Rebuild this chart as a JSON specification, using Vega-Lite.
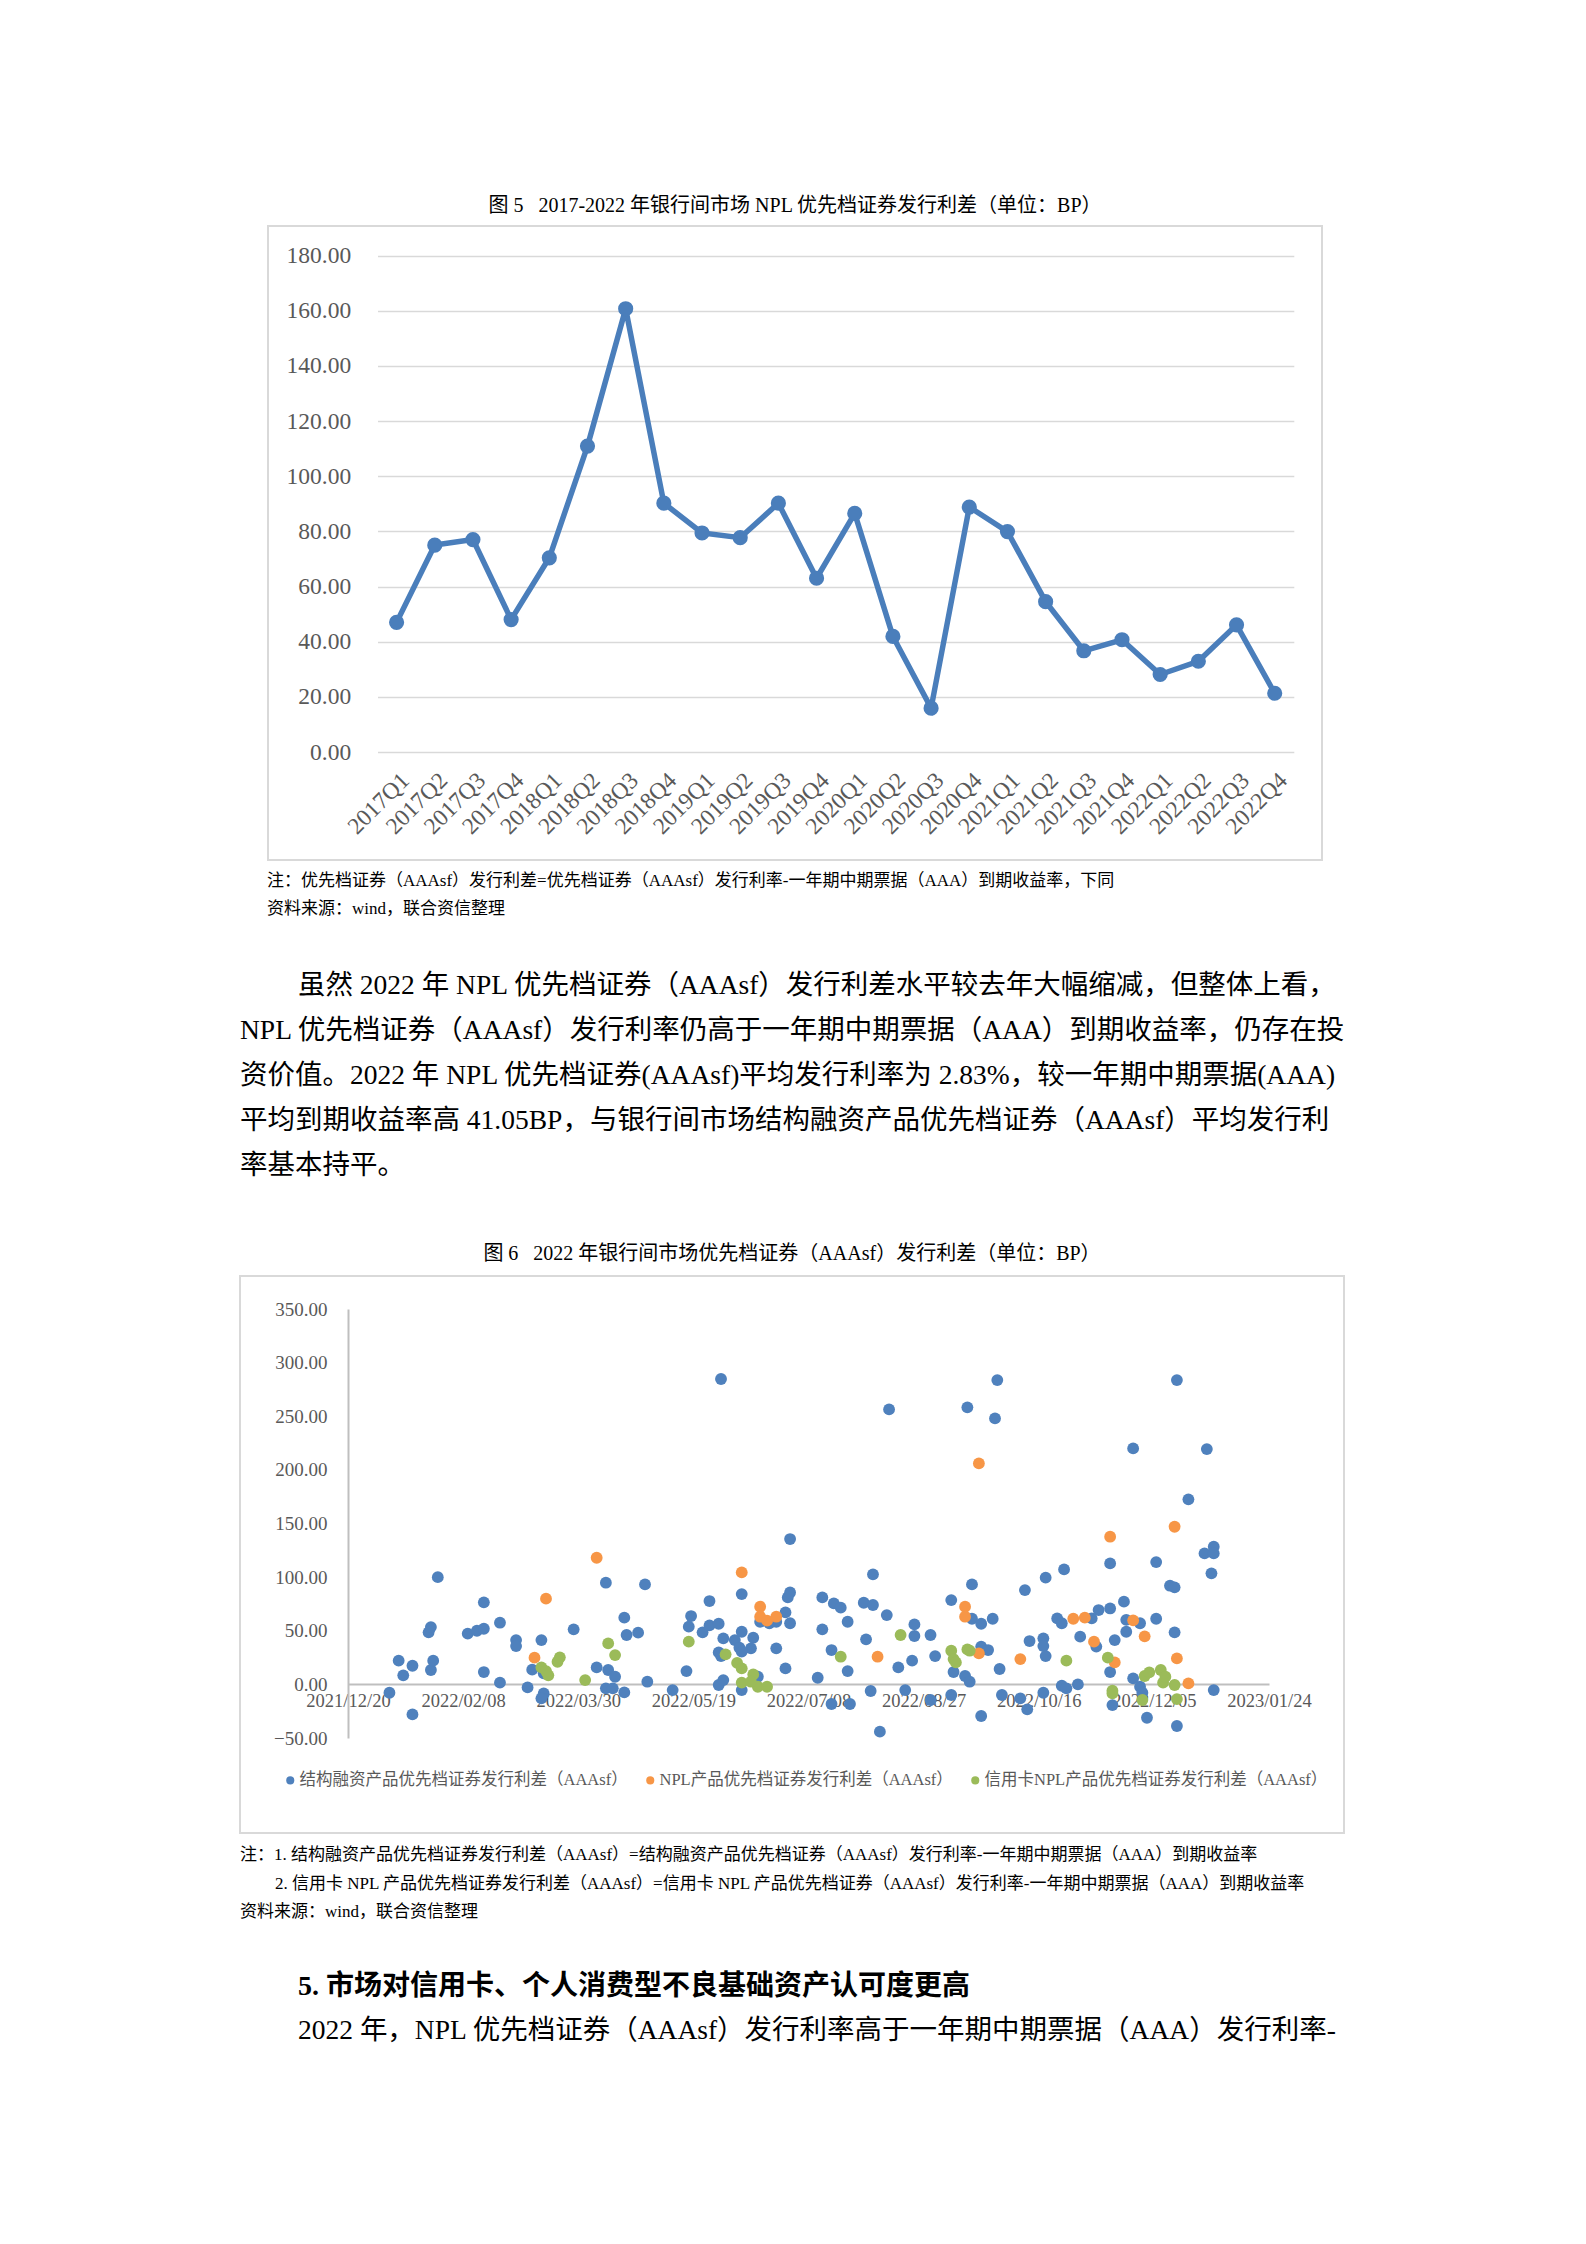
{
  "$schema": "https://vega.github.io/schema/vega-lite/v6.json",
  "background": "white",
  "padding": {"left": 239, "top": 195, "right": 10, "bottom": 10},
  "config": {
    "font": "Liberation Serif, Noto Sans CJK SC",
    "view": {"stroke": null},
    "title": {"font": "Liberation Serif, Noto Sans CJK SC", "fontWeight": "normal", "color": "#000000", "fontSize": 20, "anchor": "middle"}
  },
  "resolve": {"scale": {"color": "independent"}, "legend": {"color": "independent"}},
  "datasets": {
    "q": [
      {"quarter": "2017Q1", "spread": 47}, {"quarter": "2017Q2", "spread": 75}, {"quarter": "2017Q3", "spread": 77}, {"quarter": "2017Q4", "spread": 48},
      {"quarter": "2018Q1", "spread": 70.4}, {"quarter": "2018Q2", "spread": 110.9}, {"quarter": "2018Q3", "spread": 160.7}, {"quarter": "2018Q4", "spread": 90.2},
      {"quarter": "2019Q1", "spread": 79.4}, {"quarter": "2019Q2", "spread": 77.7}, {"quarter": "2019Q3", "spread": 90.2}, {"quarter": "2019Q4", "spread": 63},
      {"quarter": "2020Q1", "spread": 86.5}, {"quarter": "2020Q2", "spread": 41.9}, {"quarter": "2020Q3", "spread": 15.9}, {"quarter": "2020Q4", "spread": 88.8},
      {"quarter": "2021Q1", "spread": 79.9}, {"quarter": "2021Q2", "spread": 54.5}, {"quarter": "2021Q3", "spread": 36.7}, {"quarter": "2021Q4", "spread": 40.7},
      {"quarter": "2022Q1", "spread": 28.1}, {"quarter": "2022Q2", "spread": 32.9}, {"quarter": "2022Q3", "spread": 46.1}, {"quarter": "2022Q4", "spread": 21.3}
    ],
    "sf": [
      {"d": "2022-01-07", "v": -7.8}, {"d": "2022-01-17", "v": -28}, {"d": "2022-01-11", "v": 22.1}, {"d": "2022-01-13", "v": 8.4},
      {"d": "2022-01-17", "v": 17.4}, {"d": "2022-01-25", "v": 13.4}, {"d": "2022-01-26", "v": 22.1}, {"d": "2022-01-24", "v": 48.5},
      {"d": "2022-01-25", "v": 53.4}, {"d": "2022-01-28", "v": 100}, {"d": "2022-02-10", "v": 47.3}, {"d": "2022-02-14", "v": 50},
      {"d": "2022-02-17", "v": 51.9}, {"d": "2022-02-17", "v": 76.5}, {"d": "2022-02-17", "v": 11.5}, {"d": "2022-02-24", "v": 57.5},
      {"d": "2022-02-24", "v": 1.6}, {"d": "2022-03-03", "v": 41.3}, {"d": "2022-03-03", "v": 35.7}, {"d": "2022-03-08", "v": -2.8},
      {"d": "2022-03-10", "v": 13.7}, {"d": "2022-03-14", "v": 41.3}, {"d": "2022-03-15", "v": 10.3}, {"d": "2022-03-15", "v": -8.4},
      {"d": "2022-03-14", "v": -13}, {"d": "2022-03-28", "v": 51.3}, {"d": "2022-04-07", "v": 15.8}, {"d": "2022-04-11", "v": 94.8},
      {"d": "2022-04-12", "v": 13.4}, {"d": "2022-04-11", "v": -3.7}, {"d": "2022-04-14", "v": -3.7}, {"d": "2022-04-15", "v": 7.1},
      {"d": "2022-04-19", "v": -7.5}, {"d": "2022-04-19", "v": 62.2}, {"d": "2022-04-20", "v": 46}, {"d": "2022-04-25", "v": 48.2},
      {"d": "2022-04-28", "v": 93.2}, {"d": "2022-04-29", "v": 2.5}, {"d": "2022-05-10", "v": -5.3}, {"d": "2022-05-16", "v": 12.4},
      {"d": "2022-05-18", "v": 63.7}, {"d": "2022-05-17", "v": 53.8}, {"d": "2022-05-23", "v": 48.5}, {"d": "2022-05-26", "v": 55},
      {"d": "2022-05-26", "v": 77.7}, {"d": "2022-05-30", "v": 56.5}, {"d": "2022-05-31", "v": 284.7}, {"d": "2022-06-01", "v": 42.9},
      {"d": "2022-05-30", "v": 29.8}, {"d": "2022-05-31", "v": 26.4}, {"d": "2022-05-30", "v": -0.6}, {"d": "2022-06-01", "v": 4},
      {"d": "2022-06-06", "v": 41.3}, {"d": "2022-06-08", "v": 34.2}, {"d": "2022-06-09", "v": 49.1}, {"d": "2022-06-09", "v": 84.2},
      {"d": "2022-06-14", "v": 43.5}, {"d": "2022-06-13", "v": 33.6}, {"d": "2022-06-09", "v": 30.5}, {"d": "2022-06-09", "v": -5.3},
      {"d": "2022-06-16", "v": 7.1}, {"d": "2022-06-17", "v": 58.4}, {"d": "2022-06-21", "v": 57}, {"d": "2022-06-24", "v": 58.4},
      {"d": "2022-06-24", "v": 33.6}, {"d": "2022-06-28", "v": 67.1}, {"d": "2022-06-29", "v": 81.1}, {"d": "2022-06-30", "v": 85.7},
      {"d": "2022-06-30", "v": 135.5}, {"d": "2022-06-30", "v": 57}, {"d": "2022-06-28", "v": 14.9}, {"d": "2022-07-12", "v": 6.2},
      {"d": "2022-07-14", "v": 81.1}, {"d": "2022-07-14", "v": 51.3}, {"d": "2022-07-18", "v": 32}, {"d": "2022-07-19", "v": 75.5},
      {"d": "2022-07-22", "v": 71.5}, {"d": "2022-07-25", "v": 58.4}, {"d": "2022-07-25", "v": 12.4}, {"d": "2022-07-26", "v": -18.3},
      {"d": "2022-07-18", "v": -18.3}, {"d": "2022-08-01", "v": 76.1}, {"d": "2022-08-05", "v": 74}, {"d": "2022-08-05", "v": 102.6},
      {"d": "2022-08-02", "v": 42}, {"d": "2022-08-04", "v": -6.2}, {"d": "2022-08-08", "v": -44.1}, {"d": "2022-08-11", "v": 64.6},
      {"d": "2022-08-12", "v": 256.4}, {"d": "2022-08-16", "v": 15.8}, {"d": "2022-08-19", "v": -5.3}, {"d": "2022-08-23", "v": 55.9},
      {"d": "2022-08-23", "v": 45.1}, {"d": "2022-08-22", "v": 22.1}, {"d": "2022-08-30", "v": 46}, {"d": "2022-09-01", "v": 26.4},
      {"d": "2022-08-30", "v": -14.6}, {"d": "2022-09-08", "v": 78.6}, {"d": "2022-09-08", "v": -9.9}, {"d": "2022-09-09", "v": 11.5},
      {"d": "2022-09-15", "v": 258.3}, {"d": "2022-09-17", "v": 93.2}, {"d": "2022-09-17", "v": 61.2}, {"d": "2022-09-21", "v": 56.5},
      {"d": "2022-09-14", "v": 7.8}, {"d": "2022-09-16", "v": 2.5}, {"d": "2022-09-21", "v": 35.2}, {"d": "2022-09-24", "v": 32},
      {"d": "2022-09-21", "v": -29.5}, {"d": "2022-09-26", "v": 61.2}, {"d": "2022-09-27", "v": 248}, {"d": "2022-09-28", "v": 283.7},
      {"d": "2022-09-29", "v": 14.3}, {"d": "2022-09-30", "v": -9.9}, {"d": "2022-10-08", "v": -13}, {"d": "2022-10-11", "v": -23.3},
      {"d": "2022-10-10", "v": 87.9}, {"d": "2022-10-12", "v": 40.4}, {"d": "2022-10-18", "v": 42.9}, {"d": "2022-10-18", "v": 35.7},
      {"d": "2022-10-19", "v": 26.4}, {"d": "2022-10-18", "v": -7.8}, {"d": "2022-10-19", "v": 99.5}, {"d": "2022-10-24", "v": 61.5},
      {"d": "2022-10-26", "v": 57}, {"d": "2022-10-27", "v": 107.2}, {"d": "2022-10-26", "v": -1.3}, {"d": "2022-10-28", "v": -3.7},
      {"d": "2022-11-02", "v": 0}, {"d": "2022-11-03", "v": 44.5}, {"d": "2022-11-08", "v": 61.5}, {"d": "2022-11-10", "v": 35.2},
      {"d": "2022-11-11", "v": 69.3}, {"d": "2022-11-16", "v": 70.8}, {"d": "2022-11-16", "v": 112.8}, {"d": "2022-11-16", "v": 11.5},
      {"d": "2022-11-17", "v": -19.3}, {"d": "2022-11-18", "v": 41.3}, {"d": "2022-11-22", "v": 77.1}, {"d": "2022-11-23", "v": 60.2},
      {"d": "2022-11-23", "v": 49.1}, {"d": "2022-11-26", "v": 220}, {"d": "2022-11-26", "v": 5.6}, {"d": "2022-11-29", "v": 57},
      {"d": "2022-11-29", "v": -2.2}, {"d": "2022-11-30", "v": -7.8}, {"d": "2022-12-02", "v": -31.1}, {"d": "2022-12-06", "v": 61.2},
      {"d": "2022-12-06", "v": 114}, {"d": "2022-12-12", "v": 92}, {"d": "2022-12-14", "v": 90.5}, {"d": "2022-12-14", "v": 48.5},
      {"d": "2022-12-15", "v": 283.7}, {"d": "2022-12-15", "v": -38.8}, {"d": "2022-12-20", "v": 172.5}, {"d": "2022-12-27", "v": 122.1},
      {"d": "2022-12-31", "v": 128.4}, {"d": "2022-12-31", "v": 122.1}, {"d": "2022-12-30", "v": 103.5}, {"d": "2022-12-28", "v": 219.4},
      {"d": "2022-12-31", "v": -5.3}
    ],
    "npl": [
      {"d": "2022-03-16", "v": 79.9}, {"d": "2022-03-11", "v": 24.9}, {"d": "2022-04-07", "v": 118.1}, {"d": "2022-06-09", "v": 104.4},
      {"d": "2022-06-17", "v": 72.4}, {"d": "2022-06-17", "v": 63.1}, {"d": "2022-06-20", "v": 59.4}, {"d": "2022-06-24", "v": 63.1},
      {"d": "2022-08-07", "v": 25.8}, {"d": "2022-09-20", "v": 206}, {"d": "2022-09-14", "v": 72.4}, {"d": "2022-09-14", "v": 63.1},
      {"d": "2022-09-20", "v": 28.9}, {"d": "2022-10-08", "v": 23.6}, {"d": "2022-10-31", "v": 61.2}, {"d": "2022-11-05", "v": 62.2},
      {"d": "2022-11-16", "v": 137.7}, {"d": "2022-11-09", "v": 39.8}, {"d": "2022-11-18", "v": 20.5}, {"d": "2022-11-26", "v": 59.7},
      {"d": "2022-12-01", "v": 44.8}, {"d": "2022-12-14", "v": 147}, {"d": "2022-12-15", "v": 24.2}, {"d": "2022-12-20", "v": 0.9}
    ],
    "card": [
      {"d": "2022-03-14", "v": 15.8}, {"d": "2022-03-16", "v": 12.4}, {"d": "2022-03-17", "v": 8.4}, {"d": "2022-03-21", "v": 21.1},
      {"d": "2022-03-22", "v": 25.2}, {"d": "2022-04-02", "v": 4}, {"d": "2022-04-12", "v": 38.2}, {"d": "2022-04-15", "v": 27.3},
      {"d": "2022-05-17", "v": 39.8}, {"d": "2022-06-02", "v": 28}, {"d": "2022-06-07", "v": 20}, {"d": "2022-06-09", "v": 14.9},
      {"d": "2022-06-09", "v": 1.6}, {"d": "2022-06-14", "v": 9.3}, {"d": "2022-06-16", "v": -2.2}, {"d": "2022-06-20", "v": -2.2},
      {"d": "2022-06-13", "v": 2.5}, {"d": "2022-07-22", "v": 25.8}, {"d": "2022-08-17", "v": 46}, {"d": "2022-09-08", "v": 31.4},
      {"d": "2022-09-09", "v": 23.6}, {"d": "2022-09-10", "v": 20.5}, {"d": "2022-09-15", "v": 32.6}, {"d": "2022-09-16", "v": 31.4},
      {"d": "2022-10-28", "v": 22.1}, {"d": "2022-11-15", "v": 24.9}, {"d": "2022-11-17", "v": -5.9}, {"d": "2022-11-17", "v": -8.4},
      {"d": "2022-11-30", "v": -14.6}, {"d": "2022-12-01", "v": 7.8}, {"d": "2022-12-03", "v": 11.2}, {"d": "2022-12-08", "v": 13.4},
      {"d": "2022-12-09", "v": 1.6}, {"d": "2022-12-10", "v": 7.1}, {"d": "2022-12-14", "v": -0.6}, {"d": "2022-12-15", "v": -13.7}
    ],
    "notes1": [
      {"line": 0, "text": "注：优先档证券（AAAsf）发行利差=优先档证券（AAAsf）发行利率-一年期中期票据（AAA）到期收益率，下同"},
      {"line": 1, "text": "资料来源：wind，联合资信整理"}
    ],
    "para": [
      {"line": 0, "text": "虽然 2022 年 NPL 优先档证券（AAAsf）发行利差水平较去年大幅缩减，但整体上看，"},
      {"line": 1, "text": "NPL 优先档证券（AAAsf）发行利率仍高于一年期中期票据（AAA）到期收益率，仍存在投"},
      {"line": 2, "text": "资价值。2022 年 NPL 优先档证券(AAAsf)平均发行利率为 2.83%，较一年期中期票据(AAA)"},
      {"line": 3, "text": "平均到期收益率高 41.05BP，与银行间市场结构融资产品优先档证券（AAAsf）平均发行利"},
      {"line": 4, "text": "率基本持平。"}
    ],
    "notes2": [
      {"line": 0, "text": "注：1. 结构融资产品优先档证券发行利差（AAAsf）=结构融资产品优先档证券（AAAsf）发行利率-一年期中期票据（AAA）到期收益率"},
      {"line": 1, "text": "2. 信用卡 NPL 产品优先档证券发行利差（AAAsf）=信用卡 NPL 产品优先档证券（AAAsf）发行利率-一年期中期票据（AAA）到期收益率"},
      {"line": 2, "text": "资料来源：wind，联合资信整理"}
    ],
    "sec": [
      {"line": 0, "text": "5. 市场对信用卡、个人消费型不良基础资产认可度更高"},
      {"line": 1, "text": "2022 年，NPL 优先档证券（AAAsf）发行利率高于一年期中期票据（AAA）发行利率-"}
    ]
  },
  "spacing": 0,
  "vconcat": [
    {
      "spacing": 0,
      "hconcat": [
        {
          "width": 27, "height": 20,
          "data": {"values": [{"t": ""}]},
          "mark": {"type": "text"},
          "encoding": {"text": {"field": "t"}}
        },
        {
          "width": 1054, "height": 634,
          "view": {"stroke": "#D9D9D9", "strokeWidth": 2},
          "title": {"text": "图 5\u00a0\u00a0 2017-2022 年银行间市场 NPL 优先档证券发行利差（单位：BP）", "offset": 10},
          "data": {"name": "q"},
          "encoding": {
            "x": {"field": "quarter", "type": "ordinal", "sort": null,
              "scale": {"type": "point", "range": [109.5, 1025.8], "padding": 0.5},
              "axis": {"title": null, "orient": "bottom", "offset": -108, "domain": false, "ticks": false, "labelAngle": -45, "labelFontSize": 23.5, "labelColor": "#595959", "labelPadding": 16}},
            "y": {"field": "spread", "type": "quantitative",
              "scale": {"domain": [0, 180], "range": [526, 29.5], "nice": false, "zero": false},
              "axis": {"title": null, "values": [0, 20, 40, 60, 80, 100, 120, 140, 160, 180], "format": ".2f", "offset": -109.5, "domain": false, "ticks": false, "grid": true, "gridColor": "#D9D9D9", "gridWidth": 1.5, "labelFontSize": 23.5, "labelColor": "#595959", "labelPadding": 26.8}}
          },
          "layer": [
            {"mark": {"type": "line", "color": "#4A7EBB", "strokeWidth": 5.5}},
            {"mark": {"type": "point", "filled": true, "opacity": 1, "color": "#4A7EBB", "size": 230, "shape": "circle"}}
          ]
        }
      ]
    },
    {
      "width": 1110, "height": 71,
      "data": {"name": "notes1"},
      "mark": {"type": "text", "align": "left", "baseline": "middle", "fontSize": 17, "color": "#000000", "dx": 27},
      "encoding": {
        "x": {"value": 0},
        "y": {"field": "line", "type": "quantitative", "axis": null, "scale": {"domain": [-0.714, 1.822], "reverse": true, "nice": false, "zero": false}},
        "text": {"field": "text"}
      }
    },
    {
      "width": 1110, "height": 311,
      "data": {"name": "para"},
      "encoding": {
        "x": {"value": 0},
        "y": {"field": "line", "type": "quantitative", "axis": null, "scale": {"domain": [-1.197, 5.699], "reverse": true, "nice": false, "zero": false}},
        "text": {"field": "text"}
      },
      "layer": [
        {"transform": [{"filter": "datum.line == 0"}], "mark": {"type": "text", "align": "left", "baseline": "middle", "fontSize": 27.5, "color": "#000000", "dx": 58}},
        {"transform": [{"filter": "datum.line > 0"}], "mark": {"type": "text", "align": "left", "baseline": "middle", "fontSize": 27.5, "color": "#000000"}}
      ]
    },
    {
      "width": 1104, "height": 557,
      "view": {"stroke": "#D9D9D9", "strokeWidth": 2},
      "title": {"text": "图 6\u00a0\u00a0 2022 年银行间市场优先档证券（AAAsf）发行利差（单位：BP）", "offset": 12},
      "encoding": {
        "x": {"field": "d", "type": "temporal",
          "scale": {"type": "utc", "domain": [{"year": 2021, "month": 12, "date": 20, "utc": true}, {"year": 2023, "month": 1, "date": 24, "utc": true}], "range": [108, 1029], "nice": false},
          "axis": {"title": null, "orient": "bottom", "offset": -149,
            "values": [
              {"year": 2021, "month": 12, "date": 20, "utc": true}, {"year": 2022, "month": 2, "date": 8, "utc": true},
              {"year": 2022, "month": 3, "date": 30, "utc": true}, {"year": 2022, "month": 5, "date": 19, "utc": true},
              {"year": 2022, "month": 7, "date": 8, "utc": true}, {"year": 2022, "month": 8, "date": 27, "utc": true},
              {"year": 2022, "month": 10, "date": 16, "utc": true}, {"year": 2022, "month": 12, "date": 5, "utc": true},
              {"year": 2023, "month": 1, "date": 24, "utc": true}
            ],
            "labelExpr": "utcFormat(datum.value, '%Y/%m/%d')",
            "domainColor": "#BFBFBF", "domainWidth": 2, "ticks": false, "grid": false,
            "labelFontSize": 18.5, "labelColor": "#595959", "labelPadding": 7, "labelFlush": false, "labelOverlap": false, "labelBound": false}},
        "y": {"field": "v", "type": "quantitative",
          "scale": {"domain": [-50, 350], "range": [462, 33], "nice": false, "zero": false},
          "axis": {"title": null, "offset": -108, "values": [-50, 0, 50, 100, 150, 200, 250, 300, 350], "format": ".2f", "domainColor": "#BFBFBF", "domainWidth": 2, "ticks": false, "grid": false, "labelFontSize": 19, "labelColor": "#595959", "labelPadding": 21}}
      },
      "layer": [
        {
          "data": {"name": "sf"},
          "mark": {"type": "point", "filled": true, "opacity": 1, "size": 140, "shape": "circle"},
          "encoding": {
            "color": {"datum": "结构融资产品优先档证券发行利差（AAAsf）",
              "scale": {"domain": ["结构融资产品优先档证券发行利差（AAAsf）", "NPL产品优先档证券发行利差（AAAsf）", "信用卡NPL产品优先档证券发行利差（AAAsf）"], "range": ["#4F81BD", "#F79646", "#9BBB59"]},
              "legend": {"title": null, "orient": "none", "legendX": 42, "legendY": 496, "direction": "horizontal", "symbolType": "circle", "symbolSize": 65, "labelFontSize": 16.5, "labelColor": "#595959", "labelLimit": 0, "columnPadding": 14, "labelOffset": 1, "padding": 0}}
          }
        },
        {
          "data": {"name": "npl"},
          "mark": {"type": "point", "filled": true, "opacity": 1, "size": 140, "shape": "circle"},
          "encoding": {"color": {"datum": "NPL产品优先档证券发行利差（AAAsf）"}}
        },
        {
          "data": {"name": "card"},
          "mark": {"type": "point", "filled": true, "opacity": 1, "size": 140, "shape": "circle"},
          "encoding": {"color": {"datum": "信用卡NPL产品优先档证券发行利差（AAAsf）"}}
        }
      ]
    },
    {
      "width": 1110, "height": 110,
      "data": {"name": "notes2"},
      "encoding": {
        "x": {"value": 0},
        "y": {"field": "line", "type": "quantitative", "axis": null, "scale": {"domain": [-0.737, 3.123], "reverse": true, "nice": false, "zero": false}},
        "text": {"field": "text"}
      },
      "layer": [
        {"transform": [{"filter": "datum.line != 1"}], "mark": {"type": "text", "align": "left", "baseline": "middle", "fontSize": 17, "color": "#000000"}},
        {"transform": [{"filter": "datum.line == 1"}], "mark": {"type": "text", "align": "left", "baseline": "middle", "fontSize": 17, "color": "#000000", "dx": 35}}
      ]
    },
    {
      "width": 1110, "height": 110,
      "data": {"name": "sec"},
      "encoding": {
        "x": {"value": 0},
        "y": {"field": "line", "type": "quantitative", "axis": null, "scale": {"domain": [-0.977, 1.523], "reverse": true, "nice": false, "zero": false}},
        "text": {"field": "text"}
      },
      "layer": [
        {"transform": [{"filter": "datum.line == 0"}], "mark": {"type": "text", "align": "left", "baseline": "middle", "fontSize": 28, "fontWeight": "bold", "color": "#000000", "dx": 58}},
        {"transform": [{"filter": "datum.line == 1"}], "mark": {"type": "text", "align": "left", "baseline": "middle", "fontSize": 27.5, "color": "#000000", "dx": 58}}
      ]
    }
  ]
}
